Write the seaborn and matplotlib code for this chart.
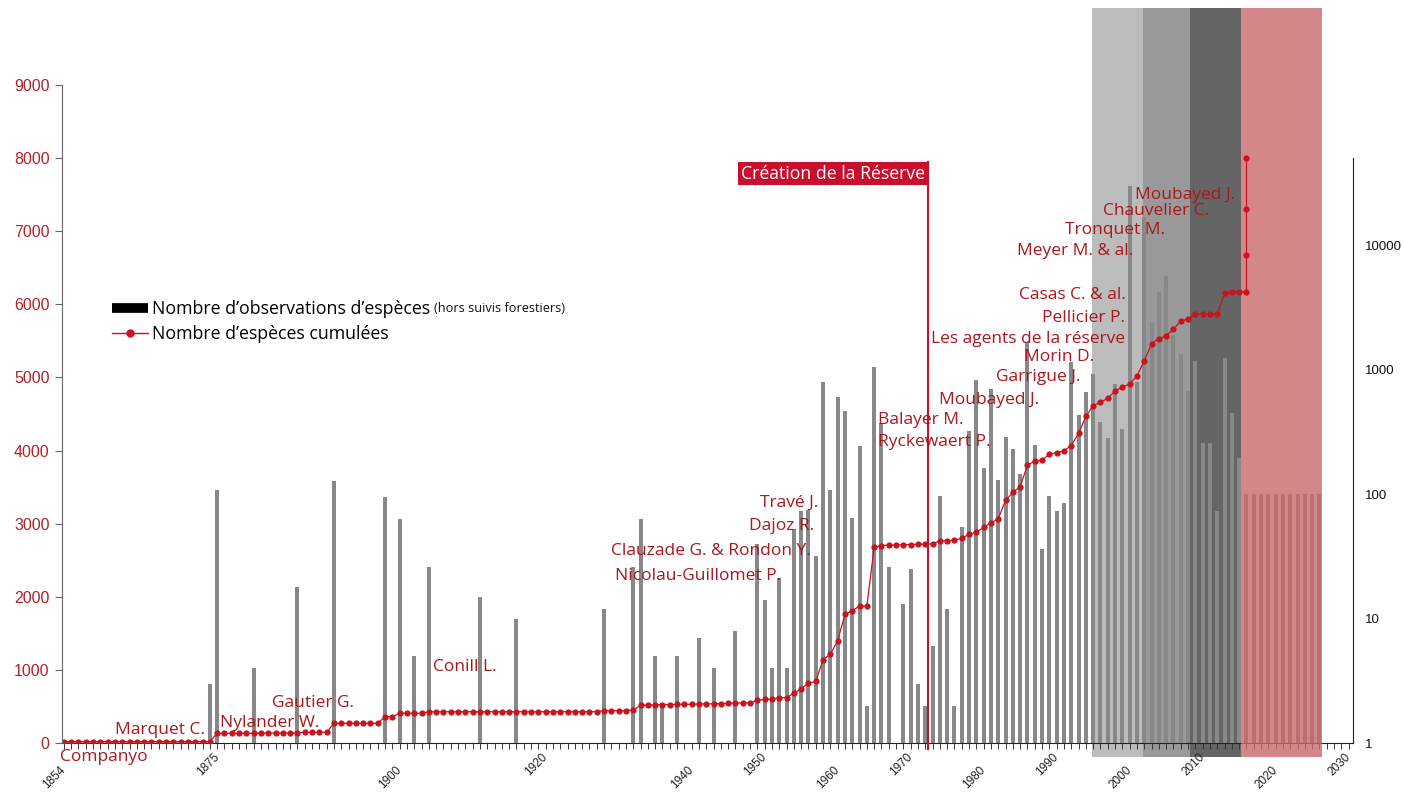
import numpy as np
import pandas as pd
import seaborn as sns
import matplotlib.pyplot as plt
from matplotlib.lines import Line2D
from matplotlib.ticker import MultipleLocator, NullLocator
from matplotlib.transforms import ScaledTranslation

# cumulative number of species (left axis, linear), one point per year
species_years = list(range(1854, 2016)) + [2016, 2016, 2016, 2016]
species_counts = [
    18, 18, 18, 18, 18, 18, 18, 18, 18, 18, 18, 18, 18, 18, 18, 18, 18, 18, 18, 18, 18,  # 1854-1874
    132, 132, 132, 132, 132, 132,                      # 1875-1880
    137, 137, 137, 137, 137, 137,                      # 1881-1886
    146, 146, 146, 146,                                # 1887-1890
    269, 269, 269, 269, 269, 269, 269,                 # 1891-1897
    360, 360,                                          # 1898-1899
    406, 406, 406, 406,                                # 1900-1903
    428, 428, 428, 428, 428, 428, 428, 428, 428, 428, 428, 428,
    428, 428, 428, 428, 428, 428, 428, 428, 428, 428, 428, 428,  # 1904-1927
    442, 442, 442, 442, 451, 515, 520, 520, 525, 525,  # 1928-1937
    529, 529, 529, 534, 534, 538, 538, 543, 547, 547,  # 1938-1947
    547, 585, 595, 600, 620, 622, 678, 743, 816, 844,  # 1948-1957
    1138, 1215, 1400, 1760, 1810, 1872, 1872, 2677, 2699, 2708,  # 1958-1967
    2708, 2713, 2713, 2717, 2722, 2722, 2768, 2768, 2770, 2802,  # 1968-1977
    2853, 2885, 2949, 3012, 3065, 3321, 3428, 3507, 3800, 3853,  # 1978-1987
    3870, 3949, 3971, 3997, 4067, 4236, 4466, 4615, 4660, 4715,  # 1988-1997
    4815, 4868, 4910, 5020, 5229, 5462, 5530, 5567, 5663, 5768,  # 1998-2007
    5800, 5868, 5868, 5868, 5868, 6151, 6173, 6173,              # 2008-2015
    6173, 6670, 7304, 8000,                                      # 2016
]

# yearly number of observations (right axis, log)
obs_years = [
    1874, 1875, 1880, 1886, 1891, 1898, 1900, 1902, 1904, 1911, 1916,
    1928, 1932, 1933, 1935, 1936, 1938, 1941, 1943, 1946, 1949,
    1950, 1951, 1952, 1953, 1954, 1955, 1956, 1957, 1958, 1959,
    1960, 1961, 1962, 1963, 1964, 1965, 1966, 1967, 1969,
    1970, 1971, 1972, 1973, 1974, 1975, 1976, 1977, 1978, 1979,
    1980, 1981, 1982, 1983, 1984, 1985, 1986, 1987, 1988, 1989,
    1990, 1991, 1992, 1993, 1994, 1995, 1996, 1997, 1998, 1999,
    2000, 2001, 2002, 2003, 2004, 2005, 2006, 2007, 2008, 2009,
    2010, 2011, 2012, 2013, 2014, 2015, 2016, 2017, 2018, 2019,
    2020, 2021, 2022, 2023, 2024, 2025, 2026,
]
obs_counts = [
    3, 107, 4, 18, 127, 95, 63, 5, 26, 15, 10,
    12, 26, 63, 5, 2, 5, 7, 4, 8, 40,
    14, 4, 21, 4, 52, 73, 75, 32, 798, 108,
    604, 467, 64, 244, 2, 1042, 370, 26, 13,
    25, 3, 2, 6, 97, 12, 2, 54, 321, 830,
    161, 693, 130, 286, 228, 146, 1670, 248, 36, 96,
    73, 84, 1146, 434, 660, 925, 376, 282, 772, 330,
    29900, 801, 16700, 2350, 4170, 5640, 1890, 1325, 676, 1170,
    258, 255, 73, 1244, 450, 196, 100, 100, 100, 100,
    100, 100, 100, 100, 100, 100, 100,
]

# observers named on the chart
observer_names = [
    "Companyo", "Marquet C.", "Nylander W.", "Gautier G.", "Conill L.",
    "Nicolau-Guillomet P.", "Clauzade G. & Rondon Y.", "Dajoz R.", "Travé J.",
    "Balayer M.", "Ryckewaert P.", "Moubayed J.", "Garrigue J.", "Morin D.",
    "Les agents de la réserve", "Pellicier P.", "Casas C. & al.",
    "Meyer M. & al.", "Tronquet M.", "Chauvelier C.", "Moubayed J.",
]
name_x = [1853.5, 1873.3, 1875.4, 1882.5, 1904.6, 1952.2, 1956.3, 1956.8, 1957.3,
          1965.5, 1965.5, 1987.6, 1993.2, 1995.1, 1999.4, 1999.4, 1999.5,
          2000.5, 2004.8, 2010.9, 2014.4]
name_y = [-191, 178, 274, 547, 1040, 2284, 2626, 2968, 3283,
          4418, 4117, 4692, 5006, 5280, 5526, 5813, 6128,
          6730, 7017, 7277, 7495]
name_ha = ["left", "right", "left", "left", "left", "right", "right", "right", "right",
           "left", "left", "right", "right", "right", "right", "right", "right",
           "right", "right", "right", "right"]

period_edges = [1994.8, 2001.8, 2008.3, 2015.3, 2026.3]
period_colors = ["#bcbcbc", "#999999", "#656565"]
xtick_years = [1854, 1875, 1900, 1920, 1940, 1950, 1960, 1970, 1980, 1990, 2000, 2010, 2020, 2030]
reserve_line = 1972.4

red = "#c8141e"
name_red = "#a8181e"
box_red = "#c8102e"

plt.rcParams["font.family"] = ["Liberation Sans", "DejaVu Sans"]

fig = plt.figure(figsize=(14.04, 7.94), dpi=100)
ax = fig.add_axes([62 / 1404, 1 - 743 / 794, 1290.7 / 1404, 658 / 794])

# shaded periods, reaching outside the axes
for x0, x1, c in zip(period_edges[:-2], period_edges[1:-1], period_colors):
    ax.axvspan(x0, x1, ymin=-0.0213, ymax=1.117, color=c, lw=0, zorder=0, clip_on=False)
ax.axvspan(period_edges[-2], period_edges[-1], ymin=-0.0213, ymax=1.117,
           color="#c9696c", alpha=0.8, lw=0, zorder=3, clip_on=False)

df_obs = pd.DataFrame({"annee": obs_years, "observations": obs_counts})
sns.barplot(data=df_obs, x="annee", y="observations", native_scale=True,
            color="#888888", saturation=1, width=0.55, errorbar=None, ax=ax)
ax.set_yscale("log")

ax2 = ax.twinx()
ax.yaxis.tick_right()
df_sp = pd.DataFrame({"annee": species_years, "especes": species_counts})
sns.lineplot(data=df_sp, x="annee", y="especes", estimator=None, sort=False,
             color=red, lw=0.9, marker="o", markersize=4.5, markeredgewidth=0, ax=ax2)
ax2.yaxis.tick_left()

ax.set_xlim(1853.75, 2030.55)
ax.set_ylim(1, 1.93e5)
ax2.set_ylim(0, 9000)
for a in (ax, ax2):
    a.set_xlabel("")
    a.set_ylabel("")

# right axis (observations)
ax.set_yticks([1, 10, 100, 1000, 10000])
ax.set_yticklabels(["1", "10", "100", "1000", "10000"])
ax.yaxis.set_minor_locator(NullLocator())
ax.tick_params(axis="y", which="both", length=0, pad=8.5, labelsize=9.5, labelcolor="#111")
ax.spines["left"].set_visible(False)
ax.spines["top"].set_visible(False)
ax.spines["right"].set_bounds(1, 5e4)
ax.spines["right"].set_color("#222")
ax.spines["bottom"].set_color("#222")

# x axis, labels staggered on two rows
ax.set_xticks(xtick_years)
ax.set_xticklabels([str(y) for y in xtick_years], rotation=45, ha="right",
                   rotation_mode="anchor", va="center")
ax.xaxis.set_minor_locator(MultipleLocator(1))
ax.tick_params(axis="x", which="both", length=4, width=0.7, color="#333",
               labelsize=8.5, labelcolor="#222", pad=5)
for i, lab in enumerate(ax.get_xticklabels()):
    if i % 2 == 0:
        lab.set_transform(lab.get_transform() + ScaledTranslation(0, -0.13, fig.dpi_scale_trans))

# left axis (cumulative species)
ax2.set_yticks(range(0, 10000, 1000))
ax2.tick_params(axis="y", length=5, width=0.8, color="#666", labelcolor="#b0222a",
                labelsize=11.5, pad=4)
for s in ("top", "right", "bottom"):
    ax2.spines[s].set_visible(False)
ax2.spines["left"].set_color("#666")

# observers
for name, x, y, ha in zip(observer_names, name_x, name_y, name_ha):
    ax2.text(x, y, name, ha=ha, va="center", fontsize=12.5, color=name_red,
             family="Open Sans", zorder=5)

# reserve creation
ax2.axvline(reserve_line, ymin=-0.009, ymax=0.8834, color=box_red, lw=1.5,
            clip_on=False, zorder=4)
ax2.annotate("Création de la Réserve", xy=(reserve_line, 0.8834),
             xycoords=("data", "axes fraction"), xytext=(-2.5, -2.2),
             textcoords="offset points", ha="right", va="top", color="white",
             fontsize=12.7, family="Open Sans",
             bbox=dict(boxstyle="square,pad=0.15", fc=box_red, ec="none"))

# legend
handles = [Line2D([], [], color="black", lw=7, solid_capstyle="butt"),
           Line2D([], [], color=red, lw=1, marker="o", markersize=6, markeredgewidth=0)]
leg = ax2.legend(handles, ["Nombre d’observations d’espèces", "Nombre d’espèces cumulées"],
                 loc="upper left", bbox_to_anchor=(112 / 1404, 1 - 300 / 794),
                 bbox_transform=fig.transFigure, frameon=False,
                 prop={"family": "Open Sans", "size": 12.8}, handlelength=2.05,
                 handletextpad=0.2, labelspacing=0.4, borderpad=0, borderaxespad=0)

fig.canvas.draw()
bb = leg.get_texts()[0].get_window_extent()
fig.text((bb.x1 + 4) / 1404, (bb.y0 + 3) / 794, "(hors suivis forestiers)",
         ha="left", va="bottom", fontsize=9.2, family="Open Sans", color="#111")

fig.savefig("out.png", dpi=100)
